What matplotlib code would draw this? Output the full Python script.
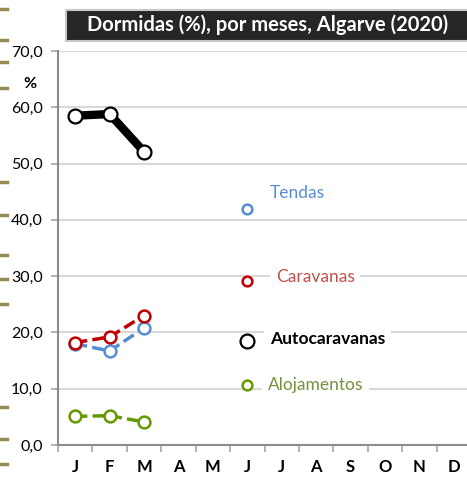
import matplotlib.pyplot as plt
from matplotlib.lines import Line2D
from matplotlib.patches import Rectangle

plt.rcParams["font.family"] = ["Lato", "DejaVu Sans"]

months = ["J", "F", "M", "A", "M", "J", "J", "A", "S", "O", "N", "D"]
y_ticks = [0, 10, 20, 30, 40, 50, 60, 70]

# values Jan-Mar 2020
autocaravanas = [58.5, 58.8, 52.1]
tendas = [18.0, 16.7, 20.8]
caravanas = [18.2, 19.2, 23.0]
alojamentos = [5.1, 5.2, 4.1]

# label markers placed in June
label_names = ["Tendas", "Caravanas", "Autocaravanas", "Alojamentos"]
label_marker_y = [42.0, 29.2, 18.4, 10.6]
label_text_pos = [(6.16, 44.8), (6.33, 29.8), (6.16, 18.8), (6.1, 10.7)]

blue = "#558ed5"
red = "#c00000"
green = "#669900"
text_colors = [blue, "#c0504d", "black", "#76923c"]
marker_colors = [blue, red, "black", green]

fig = plt.figure(figsize=(4.67, 4.79), dpi=100)
W, H = 467, 479
ax = fig.add_axes([58 / W, 1 - 445 / H, (471 - 58) / W, (445 - 51) / H])

x = [i + 0.5 for i in range(3)]
dash = (0, (3.5, 1.5))
ax.plot(x, autocaravanas, color="black", lw=6, marker="o", ms=10,
        mfc="white", mec="black", mew=1.6, zorder=5, solid_capstyle="round")
ax.plot(x, tendas, color=blue, lw=2.5, ls=dash, marker="o", ms=8.5,
        mfc="white", mec=blue, mew=1.8, zorder=4)
ax.plot(x, caravanas, color=red, lw=2.5, ls=dash, marker="o", ms=8.5,
        mfc="white", mec=red, mew=1.8, zorder=4)
ax.plot(x, alojamentos, color=green, lw=2.5, ls=dash, marker="o", ms=8.5,
        mfc="white", mec=green, mew=1.8, zorder=4)

for name, my, (tx, ty), tc, mc in zip(label_names, label_marker_y, label_text_pos,
                                      text_colors, marker_colors):
    big = name == "Autocaravanas"
    ax.plot([5.5], [my], marker="o", ms=10 if big else 7, mfc="white", mec=mc,
            mew=1.6 if big else 1.8, zorder=5)
    ax.text(tx, ty, name, color=tc, fontsize=12.5, va="center", ha="left",
            fontweight="bold" if big else "normal", zorder=4,
            bbox=dict(facecolor="white", edgecolor="none", pad=4))

ax.set_xlim(0, 12)
ax.set_ylim(0, 70)
ax.set_yticks(y_ticks)
ax.set_yticklabels([f"{v:.1f}".replace(".", ",") for v in y_ticks], fontsize=11.5)
ax.set_xticks(range(13))
ax.set_xticklabels([])
ax.set_xticks([i + 0.5 for i in range(12)], minor=True)
ax.set_xticklabels(months, minor=True, fontsize=12, fontweight="bold")
ax.tick_params(axis="x", which="minor", length=0, pad=10)
ax.tick_params(axis="x", which="major", length=5, color="#a6a6a6", width=1.2)
ax.tick_params(axis="y", length=5, color="#a6a6a6", width=1.2, pad=6)
ax.grid(axis="y", color="#d9d9d9", lw=1.5)
ax.set_axisbelow(True)
for s in ["top", "right"]:
    ax.spines[s].set_visible(False)
for s in ["left", "bottom"]:
    ax.spines[s].set_color("#8c8c8c")
    ax.spines[s].set_linewidth(1.5)

ax.text(-0.81, 64.2, "%", fontsize=11.5, fontweight="bold", ha="center", va="center")

# title box
fig.add_artist(Rectangle((66 / W, 1 - 41 / H), 410 / W, 31 / H, transform=fig.transFigure,
                         facecolor="#262626", edgecolor="#c8c8c8", lw=1.5))
fig.text(268 / W, 1 - 25 / H, "Dormidas (%), por meses, Algarve (2020)", color="white",
         fontsize=14.5, fontweight="bold", ha="center", va="center")

# decorative dashes on the left edge
for yy in [9, 40, 62, 88, 182, 215, 255, 279, 304, 407, 439, 464]:
    fig.add_artist(Line2D([0, 7 / W], [1 - yy / H] * 2, transform=fig.transFigure,
                          color="#948a54", lw=2.5))

fig.savefig("out.png", dpi=100)
